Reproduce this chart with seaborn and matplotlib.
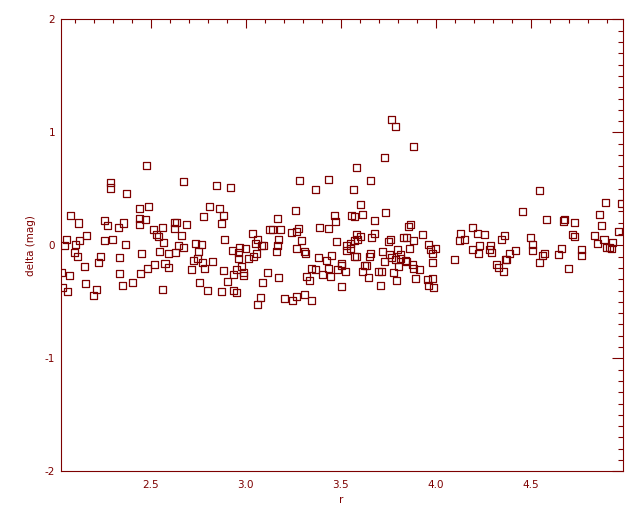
import matplotlib
matplotlib.use("Agg")
import matplotlib.pyplot as plt
from matplotlib.ticker import MultipleLocator
import pandas as pd
import seaborn as sns

MAROON = "#7d0000"

# r and delta values
r = [
    2.476, 2.286, 2.286, 2.370, 2.439, 2.486, 2.076, 2.118, 2.254, 2.270,
    2.354, 2.328, 2.439, 2.470, 2.439, 2.512, 2.562, 2.528, 2.539, 2.565,
    2.160, 2.054, 2.044, 2.123, 2.102, 2.254, 2.297, 2.365, 2.097, 2.112,
    2.233, 2.223, 2.333, 2.449, 2.544, 2.574, 2.149, 2.028, 2.070, 2.333,
    2.444, 2.481, 2.518, 2.402, 2.154, 2.349, 2.212, 2.197, 2.033, 2.060,
    2.560, 2.670, 2.844, 2.918, 2.807, 2.860, 2.776, 2.881, 2.870, 2.623,
    2.633, 2.623, 2.686, 2.660, 3.033, 3.063, 3.127, 2.591, 2.628, 2.644,
    2.670, 2.733, 2.765, 2.886, 2.749, 2.723, 2.744, 2.770, 2.823, 2.591,
    2.712, 2.781, 2.928, 2.965, 2.997, 2.960, 2.960, 3.054, 3.039, 3.012,
    3.049, 3.081, 3.091, 2.881, 2.949, 2.975, 2.933, 2.986, 2.986, 3.112,
    2.902, 2.754, 2.797, 2.870, 2.933, 2.949, 3.086, 3.076, 3.060, 3.581,
    3.281, 3.433, 3.365, 3.565, 3.654, 3.602, 3.260, 3.465, 3.470, 3.555,
    3.570, 3.612, 3.675, 3.165, 3.139, 3.181, 3.239, 3.265, 3.276, 3.386,
    3.433, 3.170, 3.291, 3.476, 3.581, 3.602, 3.586, 3.570, 3.549, 3.528,
    3.549, 3.528, 3.660, 3.675, 3.165, 3.160, 3.265, 3.307, 3.312, 3.381,
    3.423, 3.449, 3.502, 3.502, 3.570, 3.581, 3.654, 3.649, 3.623, 3.633,
    3.612, 3.644, 3.344, 3.365, 3.433, 3.481, 3.523, 3.402, 3.444, 3.318,
    3.333, 3.170, 3.502, 3.202, 3.244, 3.265, 3.307, 3.344, 3.765, 3.786,
    3.881, 3.728, 3.733, 3.854, 3.865, 3.928, 3.828, 3.844, 3.881, 3.749,
    3.760, 3.860, 3.797, 3.718, 3.754, 3.765, 3.812, 3.812, 3.728, 3.960,
    3.970, 3.997, 3.981, 3.981, 3.839, 3.844, 3.786, 3.802, 3.876, 3.881,
    3.912, 3.697, 3.712, 3.776, 3.792, 3.891, 3.954, 3.981, 3.960, 3.986,
    3.707, 4.097, 4.128, 4.123, 4.149, 4.191, 4.218, 4.191, 4.223, 4.228,
    4.544, 4.455, 4.581, 4.670, 4.676, 4.728, 4.891, 4.860, 4.870, 4.978,
    4.960, 4.833, 4.849, 4.885, 4.928, 4.896, 4.912, 4.923, 4.717, 4.728,
    4.660, 4.644, 4.697, 4.765, 4.765, 4.497, 4.507, 4.507, 4.544, 4.560,
    4.570, 4.254, 4.344, 4.360, 4.286, 4.281, 4.291, 4.386, 4.418, 4.365,
    4.370, 4.318, 4.328, 4.354,
]
delta = [
    0.709, 0.555, 0.508, 0.461, 0.328, 0.346, 0.266, 0.198, 0.222, 0.178,
    0.198, 0.160, 0.240, 0.231, 0.181, 0.142, 0.160, 0.098, 0.081, 0.027,
    0.089, 0.054, 0.001, 0.045, 0.010, 0.045, 0.054, 0.010, -0.061, -0.096,
    -0.096, -0.150, -0.105, -0.070, -0.052, -0.158, -0.185, -0.238, -0.265, -0.247,
    -0.247, -0.203, -0.167, -0.327, -0.335, -0.353, -0.388, -0.442, -0.371, -0.406,
    -0.388, 0.567, 0.532, 0.514, 0.346, 0.328, 0.258, 0.266, 0.196, 0.204,
    0.204, 0.151, 0.187, 0.089, 0.107, 0.054, 0.142, -0.070, -0.061, 0.001,
    -0.017, 0.019, 0.010, 0.054, -0.052, -0.132, -0.114, -0.150, -0.141, -0.194,
    -0.212, -0.203, -0.043, -0.017, -0.026, -0.061, -0.114, -0.070, -0.096, -0.114,
    0.019, 0.001, 0.001, -0.220, -0.212, -0.185, -0.256, -0.238, -0.265, -0.238,
    -0.318, -0.327, -0.397, -0.406, -0.397, -0.415, -0.327, -0.459, -0.521, 0.691,
    0.576, 0.585, 0.496, 0.496, 0.576, 0.364, 0.311, 0.266, 0.213, 0.266,
    0.258, 0.275, 0.222, 0.240, 0.142, 0.142, 0.116, 0.125, 0.151, 0.160,
    0.151, 0.054, 0.045, 0.036, 0.098, 0.081, 0.054, 0.045, 0.019, 0.001,
    -0.026, -0.043, 0.072, 0.107, 0.001, -0.052, -0.026, -0.052, -0.070, -0.105,
    -0.132, -0.088, -0.158, -0.176, -0.096, -0.096, -0.070, -0.096, -0.176, -0.176,
    -0.229, -0.282, -0.203, -0.212, -0.203, -0.212, -0.229, -0.256, -0.273, -0.273,
    -0.309, -0.282, -0.362, -0.468, -0.486, -0.450, -0.433, -0.486, 1.116, 1.054,
    0.877, 0.780, 0.293, 0.169, 0.187, 0.098, 0.072, 0.072, 0.045, 0.036,
    0.054, -0.026, -0.035, -0.052, -0.079, -0.105, -0.079, -0.114, -0.141, 0.010,
    -0.035, -0.026, -0.070, -0.150, -0.132, -0.141, -0.123, -0.185, -0.167, -0.203,
    -0.212, -0.229, -0.229, -0.238, -0.309, -0.291, -0.300, -0.291, -0.353, -0.371,
    -0.353, -0.123, 0.107, 0.045, 0.054, 0.160, 0.107, -0.035, -0.070, 0.001,
    0.488, 0.302, 0.231, 0.216, 0.231, 0.204, 0.381, 0.275, 0.178, 0.373,
    0.125, 0.089, 0.019, 0.054, 0.027, -0.017, -0.017, -0.026, 0.098, 0.081,
    -0.026, -0.079, -0.203, -0.035, -0.088, 0.072, 0.010, -0.043, -0.150, -0.088,
    -0.070, 0.098, 0.054, 0.089, 0.001, -0.035, -0.061, -0.070, -0.043, -0.123,
    -0.123, -0.167, -0.194, -0.229,
]

df = pd.DataFrame({"r": r, "delta": delta})

sns.set_style("white")
plt.rcParams["font.family"] = ["DejaVu Sans"]

fig = plt.figure(figsize=(6.4, 5.12), dpi=100)
ax = fig.add_axes([0.0948, 0.0795, 0.878, 0.8825])

sns.scatterplot(
    data=df, x="r", y="delta", ax=ax,
    marker="s", s=26, facecolors="none", edgecolor=MAROON, linewidth=0.9,
    clip_on=True,
)

ax.set_xlim(2.025, 4.983)
ax.set_ylim(-2, 2)
ax.xaxis.set_minor_locator(MultipleLocator(0.1))
ax.yaxis.set_minor_locator(MultipleLocator(0.1))
ax.set_xticks([2.5, 3.0, 3.5, 4.0, 4.5])
ax.set_xticklabels(["2.5", "3.0", "3.5", "4.0", "4.5"])
ax.set_yticks([-2, -1, 0, 1, 2])
ax.set_yticklabels(["-2", "-1", "0", "1", "2"])

for s in ax.spines.values():
    s.set_visible(True)
    s.set_color(MAROON)
    s.set_linewidth(0.8)

ax.tick_params(which="both", direction="in", color=MAROON, labelcolor=MAROON,
               top=True, right=True, width=0.8, labelsize=7.5)
ax.tick_params(axis="x", which="major", length=6.7, pad=6)
ax.tick_params(axis="x", which="minor", length=3.1)
ax.tick_params(axis="y", which="major", length=8.2, pad=4)
ax.tick_params(axis="y", which="minor", length=3.8)

ax.set_xlabel("r", color=MAROON, fontsize=7.5, labelpad=4)
ax.set_ylabel("delta (mag)", color=MAROON, fontsize=7.5, labelpad=6)

plt.savefig("out.png", dpi=100)
